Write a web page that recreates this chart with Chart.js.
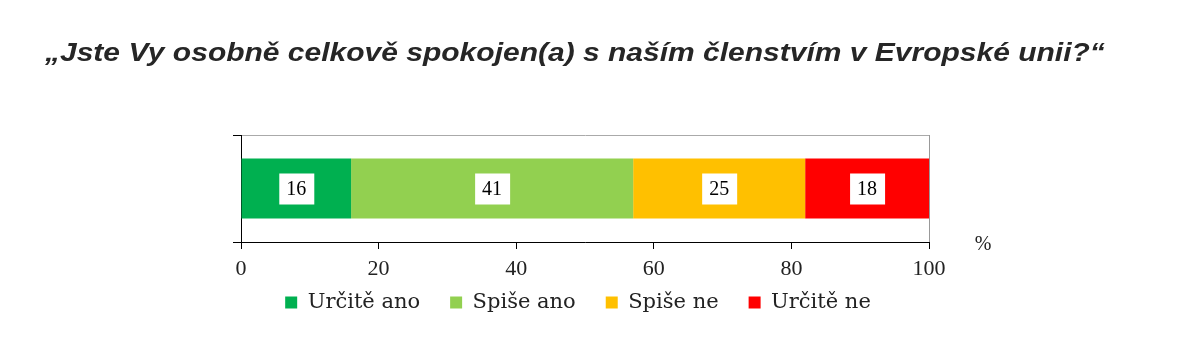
<!DOCTYPE html>
<html lang="cs">
<head>
    <meta charset="UTF-8">
    <title>Spokojenost s členstvím v EU</title>
    <script src="https://cdn.jsdelivr.net/npm/chart.js"></script>
    <style>
        body { margin: 0; background: #fff; }
        #wrap { position: relative; width: 1196px; height: 353px; }
        #titulek {
            position: absolute; left: 45px; top: 38px; margin: 0;
            font: italic bold 25px "Liberation Sans", Arial, sans-serif;
            color: #262626; white-space: nowrap;
            transform: scaleX(1.2); transform-origin: 0 0;
        }
    </style>
</head>
<body>
<div id="wrap">
    <h1 id="titulek">„Jste Vy osobně celkově spokojen(a) s naším členstvím v Evropské unii?“</h1>
    <canvas id="graf" width="1196" height="353"></canvas>
</div>

<script>
    // data z grafu
    const kategorie = [''];
    const odpovedi = ['Určitě ano', 'Spiše ano', 'Spiše ne', 'Určitě ne'];
    const hodnoty = [16, 41, 25, 18];
    const barvy = ['#00B050', '#92D050', '#FFC000', '#FF0000'];
    const osaX = [0, 20, 40, 60, 80, 100];
    const jednotka = '%';

    // popisky hodnot v bílých rámečcích + značka procent
    const popisky = {
        id: 'popisky',
        afterLayout(chart) {
            // legenda o kousek výš, blíž k ose
            chart.legend.top -= 18;
            chart.legend.bottom -= 18;
        },
        afterDatasetsDraw(chart) {
            const ctx = chart.ctx;
            ctx.save();
            ctx.font = '20px "Liberation Serif", "Times New Roman", serif';
            ctx.textAlign = 'center';
            ctx.textBaseline = 'middle';
            chart.data.datasets.forEach((ds, i) => {
                chart.getDatasetMeta(i).data.forEach(bar => {
                    const p = bar.getCenterPoint();
                    ctx.fillStyle = '#fff';
                    ctx.fillRect(p.x - 17, p.y - 15, 35, 31);
                    ctx.fillStyle = '#000';
                    ctx.fillText(ds.data[0], p.x, p.y + 1);
                });
            });
            const a = chart.chartArea;
            ctx.fillStyle = '#222';
            ctx.fillText(jednotka, a.right + 54, a.bottom + 3);
            ctx.restore();
        }
    };

    const ctx = document.getElementById('graf').getContext('2d');
    const chart = new Chart(ctx, {
        type: 'bar',
        data: {
            labels: kategorie,
            datasets: odpovedi.map((o, i) => ({
                label: o,
                data: [hodnoty[i]],
                backgroundColor: barvy[i],
                borderWidth: 0,
                barPercentage: 1,
                categoryPercentage: 0.56
            }))
        },
        options: {
            indexAxis: 'y',
            responsive: false,
            animation: false,
            layout: { padding: { left: 227, right: 267, top: 135, bottom: 12 } },
            scales: {
                x: {
                    stacked: true,
                    min: osaX[0], max: osaX[osaX.length - 1],
                    afterFit: s => { s.height = 38; },
                    grid: {
                        drawOnChartArea: true,
                        color: c => (c.tick && c.tick.value === 100) ? '#999' : 'transparent',
                        tickColor: '#000',
                        tickLength: 7
                    },
                    border: { display: true, color: '#000', width: 1 },
                    ticks: {
                        stepSize: osaX[1] - osaX[0],
                        color: '#222',
                        padding: 7,
                        font: { family: '"Liberation Serif", "Times New Roman", serif', size: 22 }
                    }
                },
                y: {
                    stacked: true,
                    afterFit: s => { s.width = 14; },
                    grid: {
                        offset: true,
                        drawOnChartArea: true,
                        color: '#aaa',
                        tickColor: '#000',
                        tickLength: 8
                    },
                    border: { display: true, color: '#000', width: 1 },
                    ticks: { display: false }
                }
            },
            plugins: {
                legend: {
                    position: 'bottom',
                    fullSize: true,
                    labels: {
                        boxWidth: 12,
                        boxHeight: 12,
                        padding: 30,
                        color: '#222',
                        font: { family: '"DejaVu Serif", serif', size: 21 }
                    }
                },
                tooltip: { enabled: false }
            }
        },
        plugins: [popisky]
    });
</script>
</body>
</html>
